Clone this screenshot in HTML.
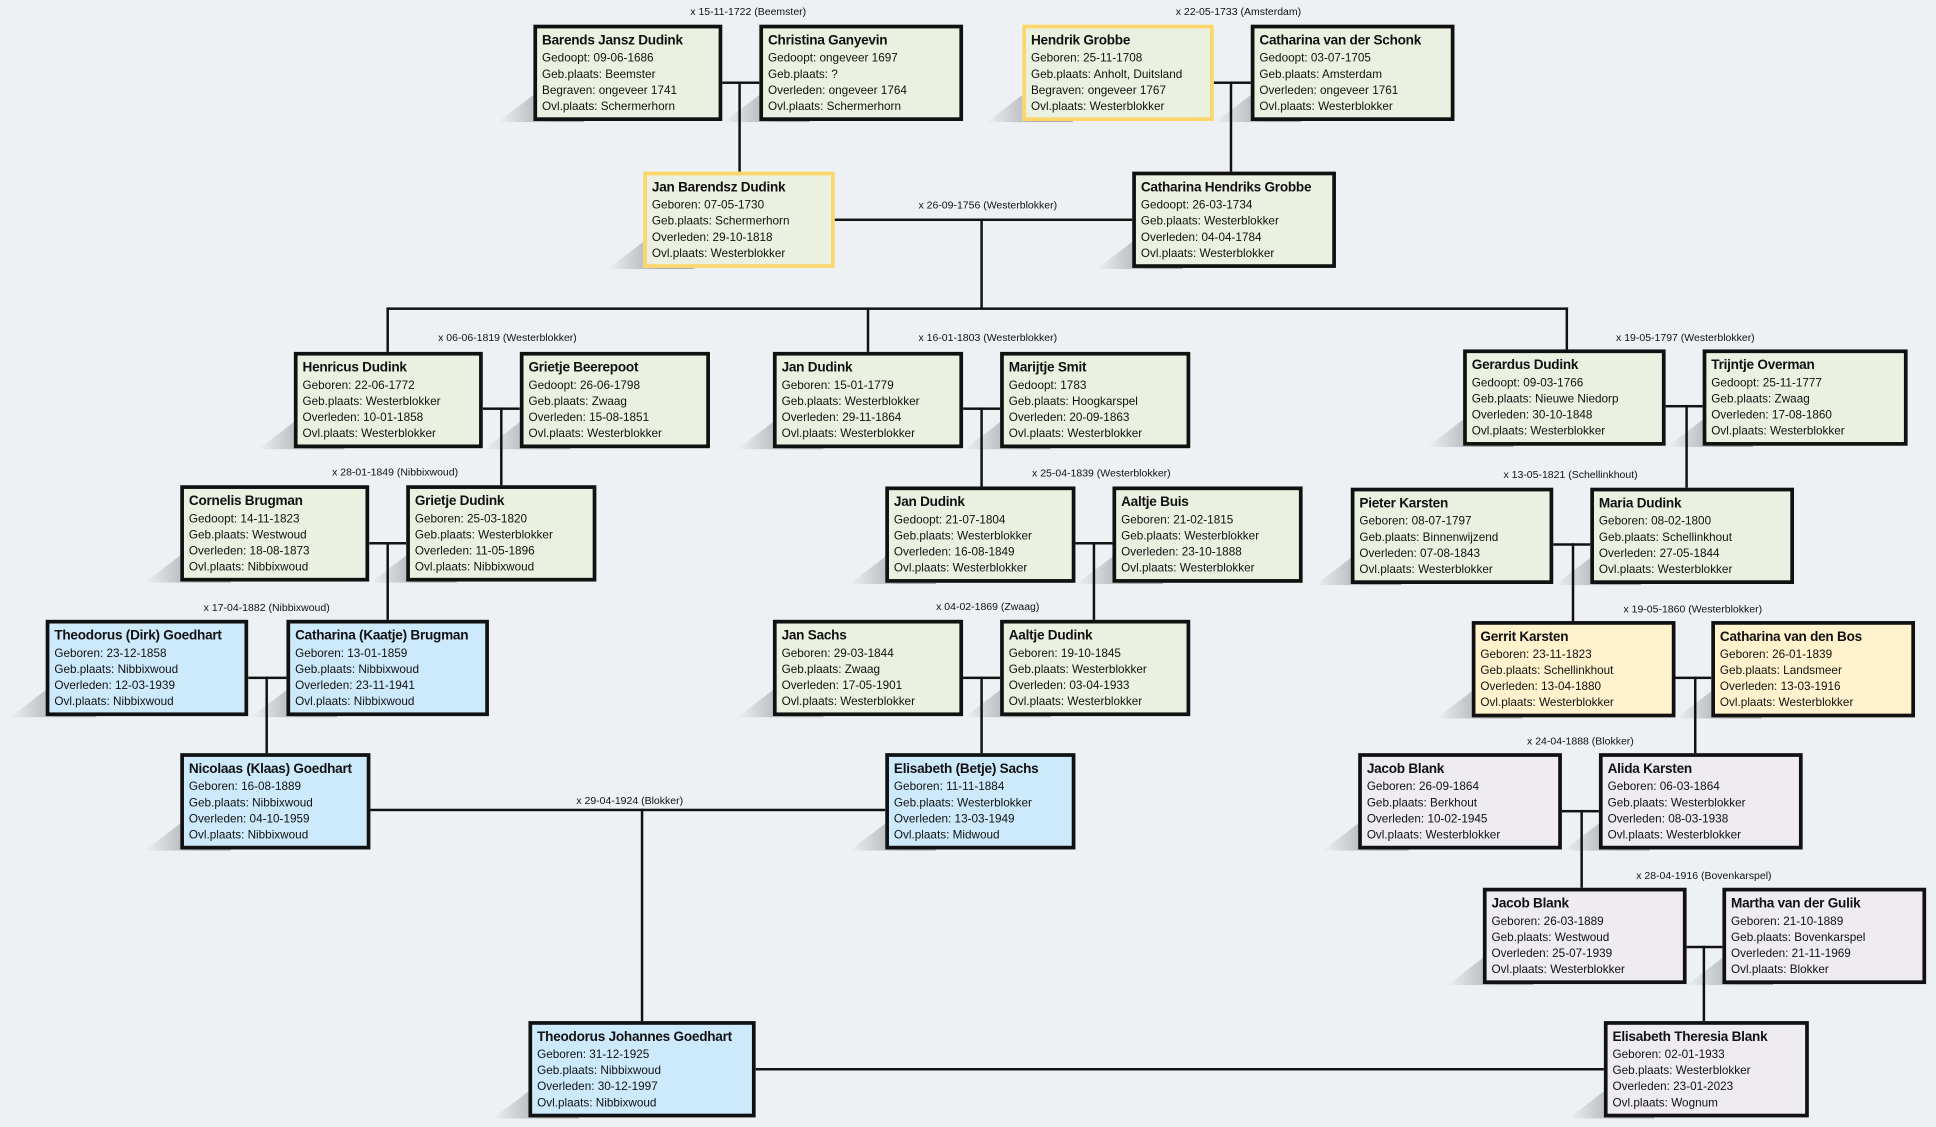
<!DOCTYPE html>
<html><head><meta charset="utf-8"><style>
html,body{margin:0;padding:0;background:#edf1f4;}
body{width:1936px;height:1127px;overflow:hidden;}
#c{position:absolute;left:0;top:0;width:1568px;height:913px;transform:scale(1.2347);transform-origin:0 0;background:#edf1f4;font-family:"Liberation Sans",sans-serif;}
.b{position:absolute;box-sizing:border-box;border:3px solid #111;background:#ebf1e0;padding:3px 4px;color:#111;}
.b::before{content:"";position:absolute;z-index:-1;left:-32px;bottom:-4px;width:70px;height:24px;background:linear-gradient(to left,#a9acaf 40%,rgba(200,203,206,0));clip-path:polygon(0 100%,45% 0,100% 0,100% 100%);}
.y{border-color:#fad66b;}
.bl{background:#cdeafc;}
.cr{background:#fff2cc;border-color:#111;}
.lv{background:#eeebf1;}
.b b{display:block;font-size:11px;line-height:15px;white-space:nowrap;letter-spacing:-0.2px;}
.b span{display:block;font-size:9.5px;line-height:13px;white-space:nowrap;}
.h,.v{position:absolute;background:#111;}
.h{height:2px;}.v{width:2px;}
.l{position:absolute;font-size:8.5px;color:#111;white-space:nowrap;transform:translateX(-50%);}
</style></head><body><div id="c">

<div class="h" style="left:585px;top:66px;width:30px"></div><div class="v" style="left:598px;top:66px;height:74px"></div>
<div class="h" style="left:983px;top:66px;width:30px"></div><div class="v" style="left:996px;top:66px;height:74px"></div>
<div class="h" style="left:676px;top:177px;width:241px"></div><div class="v" style="left:794px;top:177px;height:73px"></div>
<div class="h" style="left:313px;top:249px;width:957px"></div>
<div class="v" style="left:313px;top:249px;height:37px"></div>
<div class="v" style="left:702px;top:249px;height:37px"></div>
<div class="v" style="left:1268px;top:249px;height:35px"></div>
<div class="h" style="left:391px;top:330px;width:30px"></div><div class="v" style="left:405px;top:330px;height:64px"></div>
<div class="h" style="left:780px;top:330px;width:30px"></div><div class="v" style="left:794px;top:330px;height:65px"></div>
<div class="h" style="left:1349px;top:328px;width:30px"></div><div class="v" style="left:1365px;top:328px;height:68px"></div>
<div class="h" style="left:299px;top:439px;width:30px"></div><div class="v" style="left:313px;top:439px;height:64px"></div>
<div class="h" style="left:871px;top:439px;width:30px"></div><div class="v" style="left:885px;top:439px;height:64px"></div>
<div class="h" style="left:1258px;top:440px;width:30px"></div><div class="v" style="left:1273px;top:440px;height:64px"></div>
<div class="h" style="left:201px;top:548px;width:31px"></div><div class="v" style="left:215px;top:548px;height:63px"></div>
<div class="h" style="left:780px;top:548px;width:30px"></div><div class="v" style="left:794px;top:548px;height:63px"></div>
<div class="h" style="left:1357px;top:548px;width:29px"></div><div class="v" style="left:1372px;top:548px;height:63px"></div>
<div class="h" style="left:300px;top:655px;width:417px"></div><div class="v" style="left:519px;top:655px;height:173px"></div>
<div class="h" style="left:1265px;top:656px;width:30px"></div><div class="v" style="left:1280px;top:656px;height:64px"></div>
<div class="h" style="left:1366px;top:766px;width:29px"></div><div class="v" style="left:1379px;top:766px;height:62px"></div>
<div class="h" style="left:612px;top:865px;width:687px"></div>

<div class="l" style="left:606px;top:4px">x 15-11-1722 (Beemster)</div>
<div class="l" style="left:1003px;top:4px">x 22-05-1733 (Amsterdam)</div>
<div class="l" style="left:800px;top:161px">x 26-09-1756 (Westerblokker)</div>
<div class="l" style="left:411px;top:268px">x 06-06-1819 (Westerblokker)</div>
<div class="l" style="left:800px;top:268px">x 16-01-1803 (Westerblokker)</div>
<div class="l" style="left:1365px;top:268px">x 19-05-1797 (Westerblokker)</div>
<div class="l" style="left:320px;top:377px">x 28-01-1849 (Nibbixwoud)</div>
<div class="l" style="left:892px;top:378px">x 25-04-1839 (Westerblokker)</div>
<div class="l" style="left:1272px;top:379px">x 13-05-1821 (Schellinkhout)</div>
<div class="l" style="left:216px;top:487px">x 17-04-1882 (Nibbixwoud)</div>
<div class="l" style="left:800px;top:486px">x 04-02-1869 (Zwaag)</div>
<div class="l" style="left:1371px;top:488px">x 19-05-1860 (Westerblokker)</div>
<div class="l" style="left:510px;top:643px">x 29-04-1924 (Blokker)</div>
<div class="l" style="left:1280px;top:595px">x 24-04-1888 (Blokker)</div>
<div class="l" style="left:1380px;top:704px">x 28-04-1916 (Bovenkarspel)</div>

<div class="b" style="left:432px;top:20px;width:153px;height:78px"><b>Barends Jansz Dudink</b><span>Gedoopt: 09-06-1686</span><span>Geb.plaats: Beemster</span><span>Begraven: ongeveer 1741</span><span>Ovl.plaats: Schermerhorn</span></div>
<div class="b" style="left:615px;top:20px;width:165px;height:78px"><b>Christina Ganyevin</b><span>Gedoopt: ongeveer 1697</span><span>Geb.plaats: ?</span><span>Overleden: ongeveer 1764</span><span>Ovl.plaats: Schermerhorn</span></div>
<div class="b y" style="left:828px;top:20px;width:155px;height:78px"><b>Hendrik Grobbe</b><span>Geboren: 25-11-1708</span><span>Geb.plaats: Anholt, Duitsland</span><span>Begraven: ongeveer 1767</span><span>Ovl.plaats: Westerblokker</span></div>
<div class="b" style="left:1013px;top:20px;width:165px;height:78px"><b>Catharina van der Schonk</b><span>Gedoopt: 03-07-1705</span><span>Geb.plaats: Amsterdam</span><span>Overleden: ongeveer 1761</span><span>Ovl.plaats: Westerblokker</span></div>
<div class="b y" style="left:521px;top:139px;width:155px;height:78px"><b>Jan Barendsz Dudink</b><span>Geboren: 07-05-1730</span><span>Geb.plaats: Schermerhorn</span><span>Overleden: 29-10-1818</span><span>Ovl.plaats: Westerblokker</span></div>
<div class="b" style="left:917px;top:139px;width:165px;height:78px"><b>Catharina Hendriks Grobbe</b><span>Gedoopt: 26-03-1734</span><span>Geb.plaats: Westerblokker</span><span>Overleden: 04-04-1784</span><span>Ovl.plaats: Westerblokker</span></div>

<div class="b" style="left:238px;top:285px;width:153px;height:78px"><b>Henricus Dudink</b><span>Geboren: 22-06-1772</span><span>Geb.plaats: Westerblokker</span><span>Overleden: 10-01-1858</span><span>Ovl.plaats: Westerblokker</span></div>
<div class="b" style="left:421px;top:285px;width:154px;height:78px"><b>Grietje Beerepoot</b><span>Gedoopt: 26-06-1798</span><span>Geb.plaats: Zwaag</span><span>Overleden: 15-08-1851</span><span>Ovl.plaats: Westerblokker</span></div>
<div class="b" style="left:626px;top:285px;width:154px;height:78px"><b>Jan Dudink</b><span>Geboren: 15-01-1779</span><span>Geb.plaats: Westerblokker</span><span>Overleden: 29-11-1864</span><span>Ovl.plaats: Westerblokker</span></div>
<div class="b" style="left:810px;top:285px;width:154px;height:78px"><b>Marijtje Smit</b><span>Gedoopt: 1783</span><span>Geb.plaats: Hoogkarspel</span><span>Overleden: 20-09-1863</span><span>Ovl.plaats: Westerblokker</span></div>
<div class="b" style="left:1185px;top:283px;width:164px;height:78px"><b>Gerardus Dudink</b><span>Gedoopt: 09-03-1766</span><span>Geb.plaats: Nieuwe Niedorp</span><span>Overleden: 30-10-1848</span><span>Ovl.plaats: Westerblokker</span></div>
<div class="b" style="left:1379px;top:283px;width:166px;height:78px"><b>Trijntje Overman</b><span>Gedoopt: 25-11-1777</span><span>Geb.plaats: Zwaag</span><span>Overleden: 17-08-1860</span><span>Ovl.plaats: Westerblokker</span></div>

<div class="b" style="left:146px;top:393px;width:153px;height:78px"><b>Cornelis Brugman</b><span>Gedoopt: 14-11-1823</span><span>Geb.plaats: Westwoud</span><span>Overleden: 18-08-1873</span><span>Ovl.plaats: Nibbixwoud</span></div>
<div class="b" style="left:329px;top:393px;width:154px;height:78px"><b>Grietje Dudink</b><span>Geboren: 25-03-1820</span><span>Geb.plaats: Westerblokker</span><span>Overleden: 11-05-1896</span><span>Ovl.plaats: Nibbixwoud</span></div>
<div class="b" style="left:717px;top:394px;width:154px;height:78px"><b>Jan Dudink</b><span>Gedoopt: 21-07-1804</span><span>Geb.plaats: Westerblokker</span><span>Overleden: 16-08-1849</span><span>Ovl.plaats: Westerblokker</span></div>
<div class="b" style="left:901px;top:394px;width:154px;height:78px"><b>Aaltje Buis</b><span>Geboren: 21-02-1815</span><span>Geb.plaats: Westerblokker</span><span>Overleden: 23-10-1888</span><span>Ovl.plaats: Westerblokker</span></div>
<div class="b" style="left:1094px;top:395px;width:164px;height:78px"><b>Pieter Karsten</b><span>Geboren: 08-07-1797</span><span>Geb.plaats: Binnenwijzend</span><span>Overleden: 07-08-1843</span><span>Ovl.plaats: Westerblokker</span></div>
<div class="b" style="left:1288px;top:395px;width:165px;height:78px"><b>Maria Dudink</b><span>Geboren: 08-02-1800</span><span>Geb.plaats: Schellinkhout</span><span>Overleden: 27-05-1844</span><span>Ovl.plaats: Westerblokker</span></div>

<div class="b bl" style="left:37px;top:502px;width:164px;height:78px"><b>Theodorus (Dirk) Goedhart</b><span>Geboren: 23-12-1858</span><span>Geb.plaats: Nibbixwoud</span><span>Overleden: 12-03-1939</span><span>Ovl.plaats: Nibbixwoud</span></div>
<div class="b bl" style="left:232px;top:502px;width:164px;height:78px"><b>Catharina (Kaatje) Brugman</b><span>Geboren: 13-01-1859</span><span>Geb.plaats: Nibbixwoud</span><span>Overleden: 23-11-1941</span><span>Ovl.plaats: Nibbixwoud</span></div>
<div class="b" style="left:626px;top:502px;width:154px;height:78px"><b>Jan Sachs</b><span>Geboren: 29-03-1844</span><span>Geb.plaats: Zwaag</span><span>Overleden: 17-05-1901</span><span>Ovl.plaats: Westerblokker</span></div>
<div class="b" style="left:810px;top:502px;width:154px;height:78px"><b>Aaltje Dudink</b><span>Geboren: 19-10-1845</span><span>Geb.plaats: Westerblokker</span><span>Overleden: 03-04-1933</span><span>Ovl.plaats: Westerblokker</span></div>
<div class="b cr" style="left:1192px;top:503px;width:165px;height:78px"><b>Gerrit Karsten</b><span>Geboren: 23-11-1823</span><span>Geb.plaats: Schellinkhout</span><span>Overleden: 13-04-1880</span><span>Ovl.plaats: Westerblokker</span></div>
<div class="b cr" style="left:1386px;top:503px;width:165px;height:78px"><b>Catharina van den Bos</b><span>Geboren: 26-01-1839</span><span>Geb.plaats: Landsmeer</span><span>Overleden: 13-03-1916</span><span>Ovl.plaats: Westerblokker</span></div>

<div class="b bl" style="left:146px;top:610px;width:154px;height:78px"><b>Nicolaas (Klaas) Goedhart</b><span>Geboren: 16-08-1889</span><span>Geb.plaats: Nibbixwoud</span><span>Overleden: 04-10-1959</span><span>Ovl.plaats: Nibbixwoud</span></div>
<div class="b bl" style="left:717px;top:610px;width:154px;height:78px"><b>Elisabeth (Betje) Sachs</b><span>Geboren: 11-11-1884</span><span>Geb.plaats: Westerblokker</span><span>Overleden: 13-03-1949</span><span>Ovl.plaats: Midwoud</span></div>
<div class="b lv" style="left:1100px;top:610px;width:165px;height:78px"><b>Jacob Blank</b><span>Geboren: 26-09-1864</span><span>Geb.plaats: Berkhout</span><span>Overleden: 10-02-1945</span><span>Ovl.plaats: Westerblokker</span></div>
<div class="b lv" style="left:1295px;top:610px;width:165px;height:78px"><b>Alida Karsten</b><span>Geboren: 06-03-1864</span><span>Geb.plaats: Westerblokker</span><span>Overleden: 08-03-1938</span><span>Ovl.plaats: Westerblokker</span></div>
<div class="b lv" style="left:1201px;top:719px;width:165px;height:78px"><b>Jacob Blank</b><span>Geboren: 26-03-1889</span><span>Geb.plaats: Westwoud</span><span>Overleden: 25-07-1939</span><span>Ovl.plaats: Westerblokker</span></div>
<div class="b lv" style="left:1395px;top:719px;width:165px;height:78px"><b>Martha van der Gulik</b><span>Geboren: 21-10-1889</span><span>Geb.plaats: Bovenkarspel</span><span>Overleden: 21-11-1969</span><span>Ovl.plaats: Blokker</span></div>
<div class="b bl" style="left:428px;top:827px;width:184px;height:78px"><b>Theodorus Johannes Goedhart</b><span>Geboren: 31-12-1925</span><span>Geb.plaats: Nibbixwoud</span><span>Overleden: 30-12-1997</span><span>Ovl.plaats: Nibbixwoud</span></div>
<div class="b lv" style="left:1299px;top:827px;width:166px;height:78px"><b>Elisabeth Theresia Blank</b><span>Geboren: 02-01-1933</span><span>Geb.plaats: Westerblokker</span><span>Overleden: 23-01-2023</span><span>Ovl.plaats: Wognum</span></div>

</div></body></html>
